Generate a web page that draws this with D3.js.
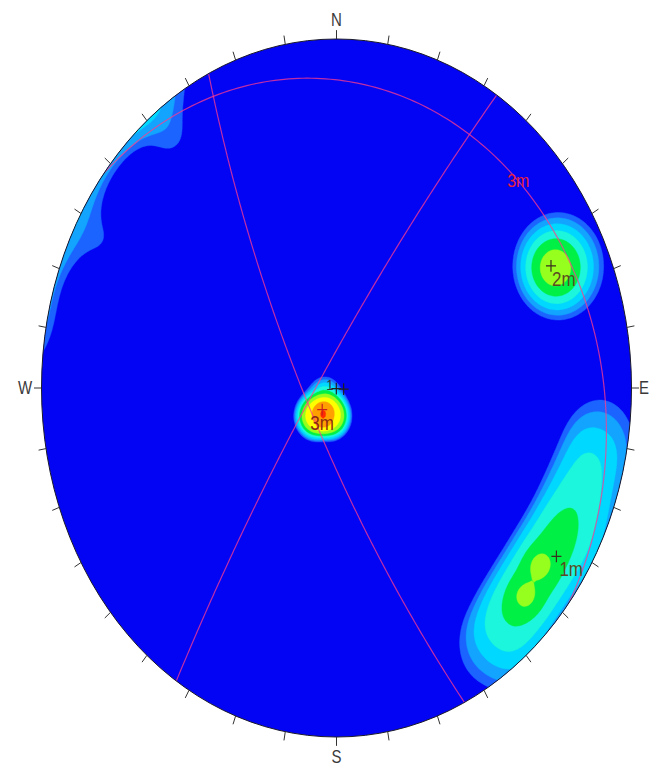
<!DOCTYPE html>
<html>
<head>
<meta charset="utf-8">
<script src="https://cdn.jsdelivr.net/npm/d3@7"></script>
<style>
  html, body { margin: 0; background: #ffffff; }
  svg { display: block; }
</style>
</head>
<body>
<svg id="net" width="651" height="770"></svg>
<script>
// ---- Pole concentrations: trend / plunge (deg), peak weight, angular spread (deg), profile exponent ----
const setTrend  = [221.9, 193.8, 236.5, 65.1,  98, 104, 110, 116, 122, 128, 134, 140, 146, 126.3, 133.1, 298, 322];
const setPlunge = [ 77.7,  80.6,  84.6, 11.5, 6.0, 7.0,   8,   8, 8.5, 8.5,   8,   7, 5.5,   8.9,   7.6,   5,   5];
const setWeight = [ 14.3,  14.3,   5.0,  9.9, 1.3, 1.5, 1.8, 2.2, 2.6, 2.7, 2.7, 2.2, 1.1,   2.4,   2.4, 1.0, 1.1];
const setSpread = [  5.9,   5.9,   5.2, 6.93, 8.2, 8.2, 8.2, 8.2, 8.2, 8.2, 8.2, 8.2, 8.2,   2.8,   2.8,   9,   6];
const setShape  = [    3,     3,     2,    2,   3,   3,   3,   3,   3,   3,   3,   3,   3,     2,     2,   2,   2];

// ---- Density contour levels and fills ----
const levels      = [1, 1.5, 2.25, 3.4, 5.1, 7.6, 11.4, 17.1, 25.6];
const levelColors = ["#1c64ff", "#12a4ff", "#00d8ff", "#1cf6dc", "#00f046",
                     "#96ff1e", "#ffff00", "#ffa000", "#ff2a00"];
const baseColor   = "#0404f4";

// ---- Mean planes (dip direction / dip) ----
const planeNames  = ["1m", "2m", "3m"];
const planeDipDir = [302.9, 244.3, 38.0];
const planeDip    = [ 83.2,  77.8,  9.0];
const planeLabelTrend = [null, null, 42];   // only the shallow set carries a label on its trace

// ---- Extra pole markers near the centre ----
const markTrend  = [200, 98];
const markPlunge = [89.8, 87.2];
const markText   = ["1", ""];

// ---- Compass ----
const tickAngles = d3.range(0, 360, 10);
const cardinals  = [["N", 0, 16.5], ["E", 90, 12.5], ["S", 180, 16.5], ["W", 270, 16.5]];

// ---------------------------------------------------------------
const cx = 336.5, cy = 388, R = 295, stretchY = 349 / 295;
const rad = Math.PI / 180;

function vec(trend, plunge) {
  const t = trend * rad, p = plunge * rad;
  return [Math.cos(p) * Math.sin(t), Math.cos(p) * Math.cos(t), Math.sin(p)];
}
function toTP(x) {
  let t = Math.atan2(x[0], x[1]) / rad, p = Math.asin(Math.max(-1, Math.min(1, x[2]))) / rad;
  if (p < 0) { t += 180; p = -p; }
  return [(t + 360) % 360, p];
}
// lower-hemisphere equal-angle projection onto the unit circle
function project(trend, plunge) {
  const r = Math.tan((90 - plunge) / 2 * rad);
  return [r * Math.sin(trend * rad), r * Math.cos(trend * rad)];
}
function unproject(u, v) {
  const r = Math.hypot(u, v);
  return [Math.atan2(u, v) / rad, 90 - 2 * Math.atan(r) / rad];
}

const xs = d3.scaleLinear().domain([-1, 1]).range([-R, R]);
const ys = d3.scaleLinear().domain([-1, 1]).range([R, -R]);

const svg = d3.select("#net");
const g = svg.append("g").attr("transform", `translate(${cx},${cy}) scale(1,${stretchY})`);

g.append("defs").append("clipPath").attr("id", "prim")
  .append("circle").attr("r", R);

g.append("circle").attr("r", R).attr("fill", baseColor);

// ---- density grid (axial: a pole and its antipode are the same line) ----
const n = 300, E = 1.04;
const sets = setTrend.map((t, i) => ({
  v: vec(t, setPlunge[i]), w: setWeight[i], s: setSpread[i], p: setShape[i]
}));
const values = new Float64Array(n * n);
for (let j = 0; j < n; j++) {
  const v = E - 2 * E * (j + 0.5) / n;
  for (let i = 0; i < n; i++) {
    const u = -E + 2 * E * (i + 0.5) / n;
    const tp = unproject(u, v);
    const x = vec(tp[0], tp[1]);
    let d = 0;
    for (const s of sets) {
      const c = Math.min(1, Math.abs(x[0] * s.v[0] + x[1] * s.v[1] + x[2] * s.v[2]));
      const ang = Math.acos(c) / rad;
      d += s.w * Math.exp(-Math.pow(ang / s.s, s.p));
    }
    values[j * n + i] = d;
  }
}
const bands = d3.contours().size([n, n]).thresholds(levels)(values);
const gs = d3.scaleLinear().domain([0, n]).range([-E * R, E * R]);
const gridPath = d3.geoPath(d3.geoTransform({
  point(x, y) { this.stream.point(gs(x), gs(y)); }
}));
const color = d3.scaleOrdinal().domain(levels).range(levelColors);

const clipped = g.append("g").attr("clip-path", "url(#prim)");
clipped.selectAll("path.band").data(bands).join("path")
  .attr("class", "band")
  .attr("d", gridPath)
  .attr("fill", d => color(d.value))
  .attr("stroke", d => color(d.value))
  .attr("stroke-width", 0.4);

// ---- great circles of the mean planes ----
function planeTrace(dd, dip) {
  const s = (dd - 90) * rad, dpr = dip * rad, ddr = dd * rad;
  const S = [Math.sin(s), Math.cos(s), 0];
  const D = [Math.cos(dpr) * Math.sin(ddr), Math.cos(dpr) * Math.cos(ddr), Math.sin(dpr)];
  return d3.range(0, 180.5, 1).map(a => {
    const c = Math.cos(a * rad), sn = Math.sin(a * rad);
    const tp = toTP([c * S[0] + sn * D[0], c * S[1] + sn * D[1], c * S[2] + sn * D[2]]);
    return project(tp[0], tp[1]);
  });
}
const line = d3.line().x(d => xs(d[0])).y(d => ys(d[1]));
clipped.selectAll("path.plane").data(planeDipDir).join("path")
  .attr("class", "plane")
  .attr("d", (dd, i) => line(planeTrace(dd, planeDip[i])))
  .attr("fill", "none")
  .attr("stroke", "#ff3c8c")
  .attr("stroke-opacity", 0.75)
  .attr("stroke-width", 1.2)
  .attr("vector-effect", "non-scaling-stroke");

// ---- primitive circle ----
g.append("circle").attr("r", R).attr("fill", "none")
  .attr("stroke", "#1a1a2a").attr("stroke-width", 1)
  .attr("vector-effect", "non-scaling-stroke");

// ---- ticks ----
g.selectAll("line.tick").data(tickAngles).join("line")
  .attr("class", "tick")
  .attr("x1", a => xs(Math.sin(a * rad)))
  .attr("y1", a => ys(Math.cos(a * rad)))
  .attr("x2", a => xs(Math.sin(a * rad) * (R + 7.5) / R))
  .attr("y2", a => ys(Math.cos(a * rad) * (R + 7.5) / R))
  .attr("stroke", "#333")
  .attr("stroke-width", 1)
  .attr("vector-effect", "non-scaling-stroke");

g.selectAll("text.card").data(cardinals).join("text")
  .attr("class", "card")
  .attr("x", d => xs(Math.sin(d[1] * rad) * (R + d[2]) / R))
  .attr("y", d => ys(Math.cos(d[1] * rad) * (R + d[2]) / R))
  .attr("text-anchor", "middle")
  .attr("dominant-baseline", "central")
  .attr("font-family", "Liberation Sans, Arial, sans-serif")
  .attr("font-size", 15)
  .attr("fill", "#3a3a3a")
  .text(d => d[0]);

// ---- mean poles ----
function cross(sel, color) {
  sel.append("path")
    .attr("d", "M-5,0H5M0,-5V5")
    .attr("stroke", color).attr("stroke-width", 1.2)
    .attr("vector-effect", "non-scaling-stroke");
}
const labelDx = [3, 1, -12];
planeNames.forEach((name, i) => {
  const p = project(planeDipDir[i] + 180, 90 - planeDip[i]);
  const gp = g.append("g").attr("transform", `translate(${xs(p[0])},${ys(p[1])})`);
  cross(gp, i === 2 ? "#c81e1e" : "#3a2e1e");
  gp.append("text")
    .attr("x", labelDx[i]).attr("y", 17)
    .attr("font-family", "Liberation Sans, Arial, sans-serif")
    .attr("font-size", 17)
    .attr("fill", i === 2 ? "#8a2a14" : "#5c4a22")
    .text(name);
  if (planeLabelTrend[i] !== null) {
    const t = planeLabelTrend[i];
    const app = Math.atan(Math.tan(planeDip[i] * rad) * Math.cos((t - planeDipDir[i]) * rad)) / rad;
    const q = project(t, app);
    g.append("text")
      .attr("x", xs(q[0]) + 2).attr("y", ys(q[1]) + 17)
      .attr("font-family", "Liberation Sans, Arial, sans-serif")
      .attr("font-size", 16)
      .attr("fill", "#e8203c")
      .text(name);
  }
});

markTrend.forEach((t, i) => {
  const p = project(t, markPlunge[i]);
  const gm = g.append("g").attr("transform", `translate(${xs(p[0])},${ys(p[1])})`);
  cross(gm, "#202020");
  if (markText[i]) {
    gm.append("text").attr("x", -10).attr("y", 1)
      .attr("font-family", "Liberation Sans, Arial, sans-serif")
      .attr("font-size", 13).attr("fill", "#303030")
      .text(markText[i]);
  }
});
</script>
</body>
</html>
